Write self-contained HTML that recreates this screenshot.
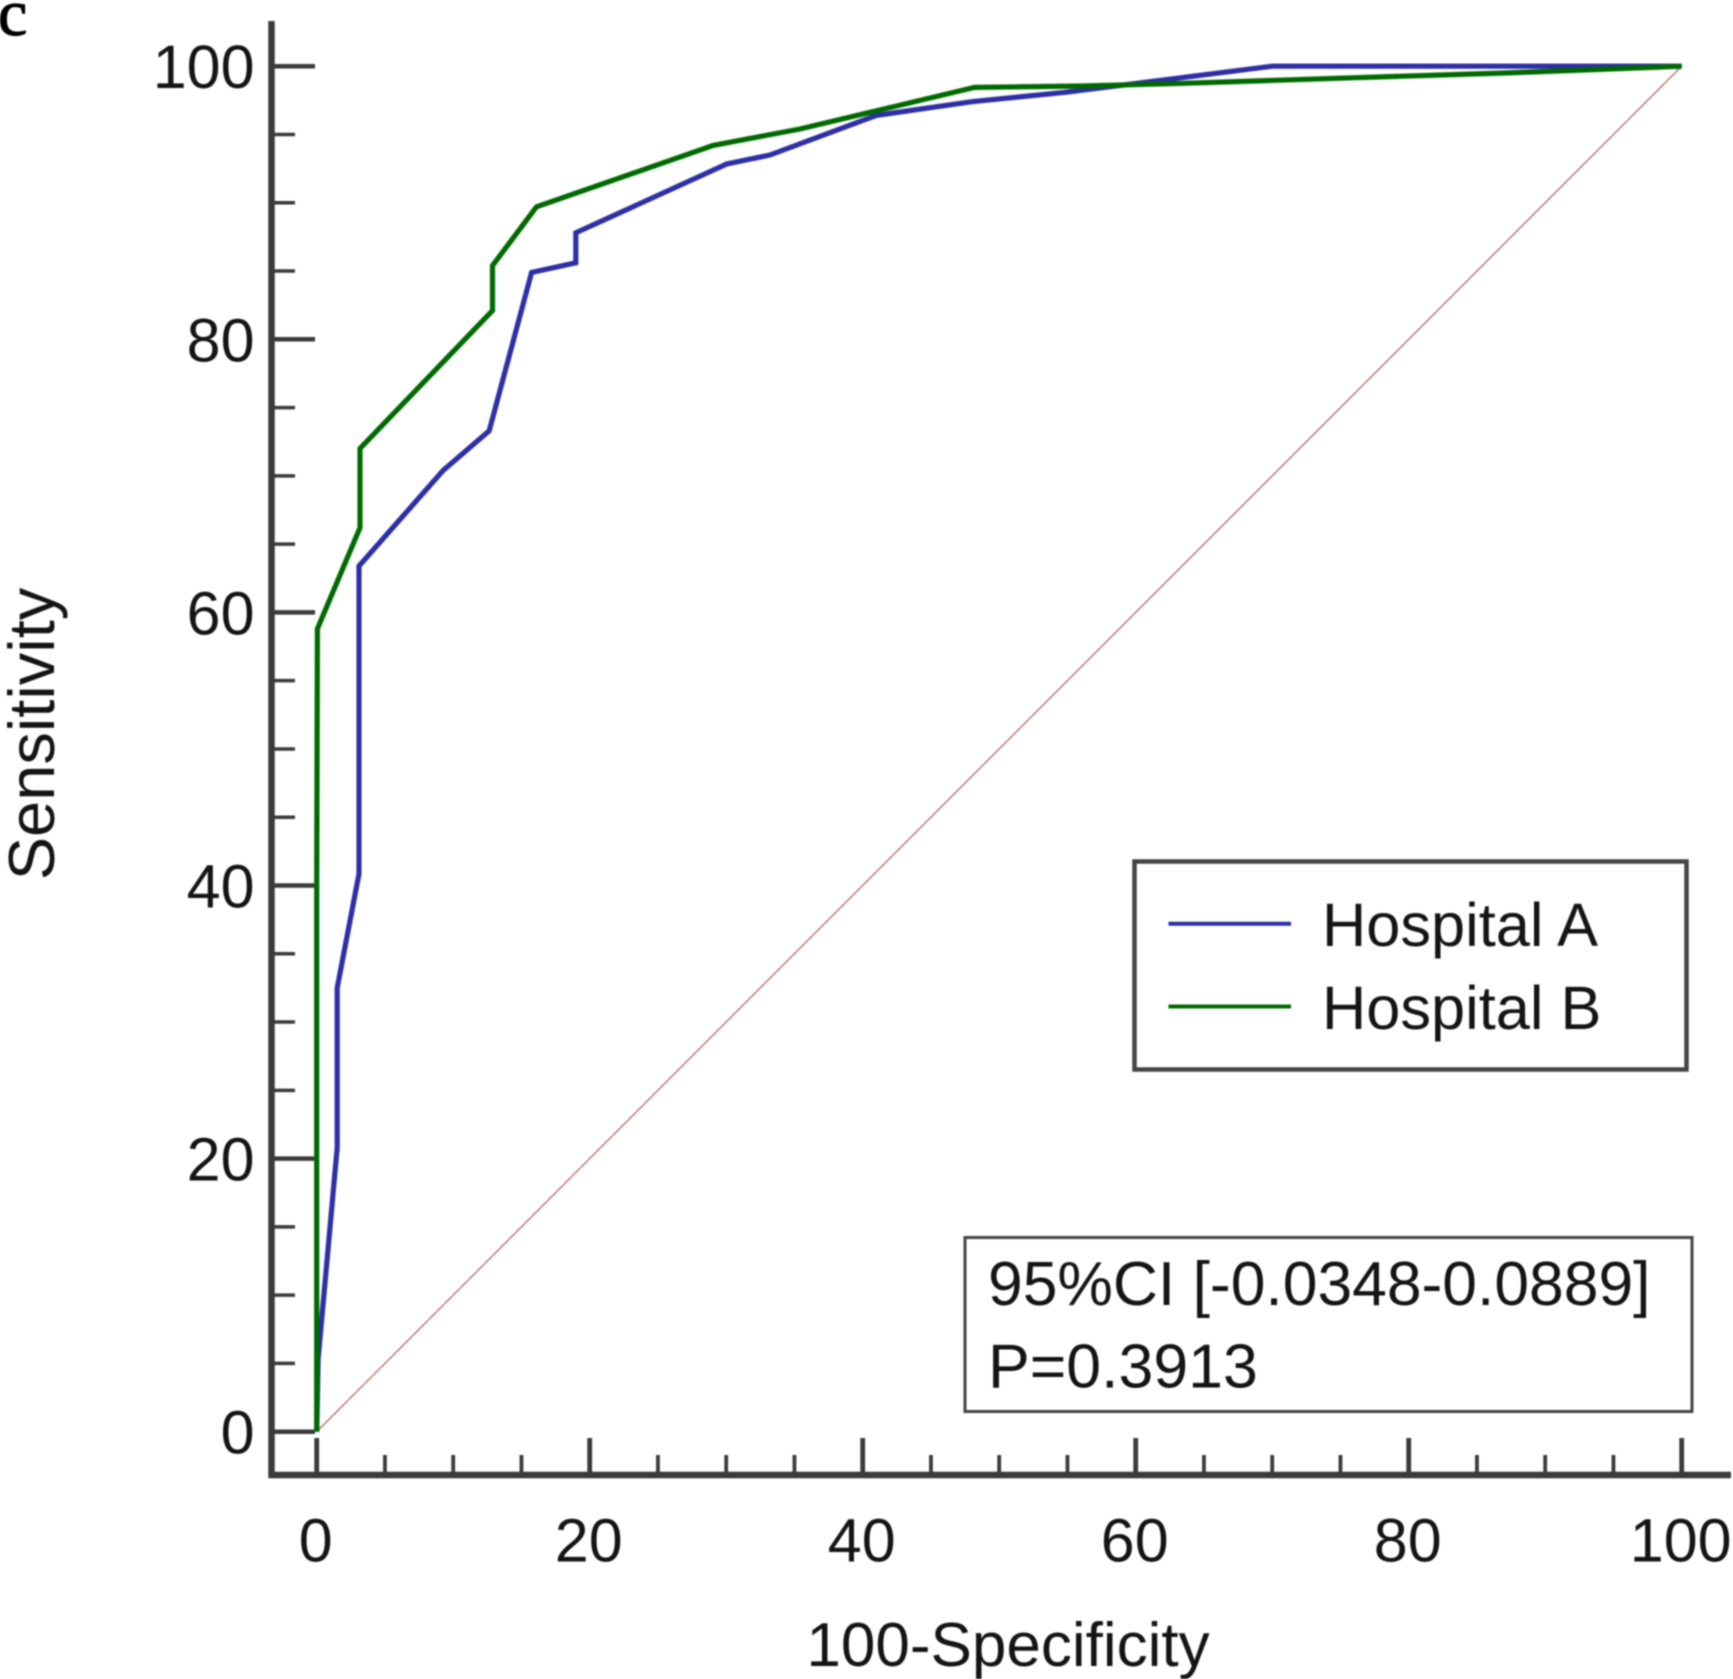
<!DOCTYPE html>
<html lang="en">
<head>
<meta charset="utf-8">
<title>ROC curves Hospital A vs Hospital B</title>
<style>
html,body{margin:0;padding:0;background:#fff;width:1733px;height:1679px;overflow:hidden}
svg{display:block;filter:blur(0.7px)}
text{font-family:"Liberation Sans",Arial,sans-serif;fill:#141414}
</style>
</head>
<body>
<svg id="chart" xmlns="http://www.w3.org/2000/svg" width="1733" height="1679" viewBox="0 0 1733 1679">
  <rect x="0" y="0" width="1733" height="1679" fill="#ffffff"/>
  <text x="-2" y="35" font-size="66" style="font-family:'Liberation Serif',serif;fill:#000;stroke:#000;stroke-width:1.2">c</text>
  <g id="axes"></g>
  <g id="marks"></g>
  <text x="1008" y="1666" font-size="62" text-anchor="middle">100-Specificity</text>
  <text transform="translate(54,734) rotate(-90)" font-size="65" text-anchor="middle">Sensitivity</text>
  <g>
    <rect x="1134.5" y="861.5" width="552" height="208" fill="#fff" stroke="#444" stroke-width="4.5"/>
    <line x1="1168.5" y1="923.7" x2="1291" y2="923.7" stroke="#2e2ea6" stroke-width="4"/>
    <text x="1322" y="946" font-size="61.3">Hospital A</text>
    <line x1="1168.5" y1="1006.5" x2="1291" y2="1006.5" stroke="#006a00" stroke-width="4"/>
    <text x="1322" y="1029" font-size="61.3">Hospital B</text>
  </g>
  <g>
    <rect x="965" y="1237.5" width="727" height="174" fill="#fff" stroke="#444" stroke-width="3"/>
    <text x="988" y="1304.8" font-size="62.4">95%CI [-0.0348-0.0889]</text>
    <text x="988" y="1387.7" font-size="62.6">P=0.3913</text>
  </g>
</svg>
<script>
const xTickLabels = [0, 20, 40, 60, 80, 100];
const yTickLabels = [0, 20, 40, 60, 80, 100];
const minorTickValues = [5, 10, 15, 25, 30, 35, 45, 50, 55, 65, 70, 75, 85, 90, 95];
const hospitalAX = [0, 0.1, 1.5, 1.5, 3.1, 3.1, 9.27, 12.64, 15.74, 18.98, 18.98, 30.04, 33.2, 41, 48, 55, 70, 100];
const hospitalAY = [0, 5.3, 20.8, 32.5, 40.85, 63.4, 70.4, 73.3, 84.9, 85.6, 87.8, 92.84, 93.5, 96.4, 97.4, 98.1, 100, 100];
const hospitalBX = [0, 0, 0.05, 3.17, 3.17, 12.88, 12.88, 16.1, 29.05, 35.4, 48.2, 56.1, 63.5, 75.8, 87, 100];
const hospitalBY = [0, 40, 58.8, 66.2, 72, 82.1, 85.4, 89.7, 94.2, 95.4, 98.45, 98.55, 98.75, 99.15, 99.5, 100];
const diagonalX = [0, 100];
const diagonalY = [0, 100];

const NS = 'http://www.w3.org/2000/svg';
function xScale(v) { return 316.7 + v * 13.65; }
function yScale(v) { return 1431.7 - v * 13.655; }
function make(tag, attrs, parent) {
  const el = document.createElementNS(NS, tag);
  Object.keys(attrs).forEach(function (k) { el.setAttribute(k, attrs[k]); });
  parent.appendChild(el);
  return el;
}
function pointsFor(xs, ys) {
  return xs.map(function (x, i) { return xScale(x).toFixed(1) + ',' + yScale(ys[i]).toFixed(1); }).join(' ');
}

const axes = document.getElementById('axes');
const marks = document.getElementById('marks');
const axisColor = '#3a3a3a';

const yAxis = make('line', {x1: 271.5, y1: 21, x2: 271.5, y2: 1478, stroke: axisColor, 'stroke-width': 6.5}, axes);


const xAxis = make('line', {x1: 268.5, y1: 1475, x2: 1731, y2: 1475, stroke: axisColor, 'stroke-width': 6.5}, axes);



minorTickValues.forEach(function (v) {
  const ty = make('line', {x1: 274, y1: yScale(v), x2: 295, y2: yScale(v), stroke: axisColor, 'stroke-width': 3.5}, axes);
  
  
  const tx = make('line', {x1: xScale(v), y1: 1473, x2: xScale(v), y2: 1455, stroke: axisColor, 'stroke-width': 3.8}, axes);
  
  
});

yTickLabels.forEach(function (v) {
  const t = make('line', {x1: 274, y1: yScale(v), x2: 315, y2: yScale(v), stroke: axisColor, 'stroke-width': 4.5}, axes);
  
  
  const label = make('text', {x: 254.5, y: yScale(v) + 22, 'font-size': 61, 'text-anchor': 'end'}, axes);
  label.textContent = String(v);
  
  
});

xTickLabels.forEach(function (v) {
  const t = make('line', {x1: xScale(v), y1: 1473, x2: xScale(v), y2: 1438, stroke: axisColor, 'stroke-width': 4.8}, axes);
  
  
  const label = make('text', {x: xScale(v) - 1, y: 1561.7, 'font-size': 61, 'text-anchor': 'middle'}, axes);
  label.textContent = String(v);
  
  
});

const diagonal = make('polyline', {points: pointsFor(diagonalX, diagonalY), fill: 'none', stroke: '#c47a7a', 'stroke-width': 1.5}, marks);



const lineA = make('polyline', {points: pointsFor(hospitalAX, hospitalAY), fill: 'none', stroke: '#2e2ea6', 'stroke-width': 5.2, 'stroke-linejoin': 'miter'}, marks);



const lineB = make('polyline', {points: pointsFor(hospitalBX, hospitalBY), fill: 'none', stroke: '#006a00', 'stroke-width': 5.2, 'stroke-linejoin': 'miter'}, marks);


</script>
</body>
</html>
